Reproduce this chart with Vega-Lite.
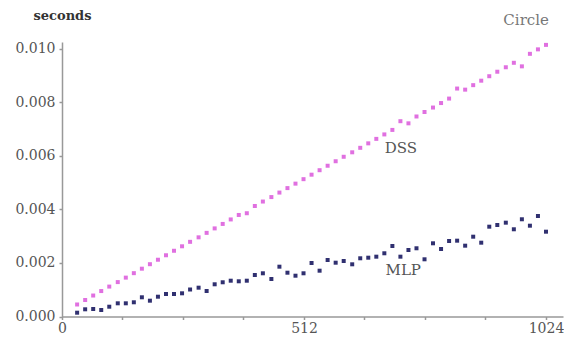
{
  "$schema": "https://vega.github.io/schema/vega-lite/v6.json",
  "autosize": {"type": "none"},
  "width": 501,
  "height": 274.5,
  "padding": {"left": 62, "top": 42, "right": 1, "bottom": 23.5},
  "background": "white",
  "config": {"view": {"stroke": null}, "font": "DejaVu Serif"},
  "datasets": {
    "pts": [
      {"n":32,"t":0.000449,"s":"DSS"},{"n":49,"t":0.000616,"s":"DSS"},{"n":66,"t":0.000784,"s":"DSS"},{"n":83,"t":0.000951,"s":"DSS"},{"n":100,"t":0.001118,"s":"DSS"},{"n":118,"t":0.001286,"s":"DSS"},{"n":135,"t":0.001453,"s":"DSS"},{"n":152,"t":0.00162,"s":"DSS"},{"n":169,"t":0.001787,"s":"DSS"},{"n":186,"t":0.001955,"s":"DSS"},{"n":203,"t":0.002122,"s":"DSS"},{"n":220,"t":0.002289,"s":"DSS"},{"n":237,"t":0.002457,"s":"DSS"},{"n":254,"t":0.002624,"s":"DSS"},{"n":271,"t":0.002791,"s":"DSS"},{"n":289,"t":0.002959,"s":"DSS"},{"n":306,"t":0.003126,"s":"DSS"},{"n":323,"t":0.003293,"s":"DSS"},{"n":340,"t":0.00346,"s":"DSS"},{"n":357,"t":0.003628,"s":"DSS"},{"n":374,"t":0.003795,"s":"DSS"},{"n":391,"t":0.00386,"s":"DSS"},{"n":408,"t":0.00413,"s":"DSS"},{"n":425,"t":0.004297,"s":"DSS"},{"n":443,"t":0.004464,"s":"DSS"},{"n":460,"t":0.004632,"s":"DSS"},{"n":477,"t":0.004799,"s":"DSS"},{"n":494,"t":0.004966,"s":"DSS"},{"n":511,"t":0.005133,"s":"DSS"},{"n":528,"t":0.005301,"s":"DSS"},{"n":545,"t":0.005468,"s":"DSS"},{"n":562,"t":0.005635,"s":"DSS"},{"n":579,"t":0.005803,"s":"DSS"},{"n":596,"t":0.00597,"s":"DSS"},{"n":614,"t":0.006137,"s":"DSS"},{"n":631,"t":0.006305,"s":"DSS"},{"n":648,"t":0.006472,"s":"DSS"},{"n":665,"t":0.006639,"s":"DSS"},{"n":682,"t":0.006806,"s":"DSS"},{"n":699,"t":0.006974,"s":"DSS"},{"n":716,"t":0.0073,"s":"DSS"},{"n":733,"t":0.00722,"s":"DSS"},{"n":750,"t":0.007476,"s":"DSS"},{"n":767,"t":0.007643,"s":"DSS"},{"n":785,"t":0.00781,"s":"DSS"},{"n":802,"t":0.007978,"s":"DSS"},{"n":819,"t":0.008145,"s":"DSS"},{"n":836,"t":0.00852,"s":"DSS"},{"n":853,"t":0.008479,"s":"DSS"},{"n":870,"t":0.008647,"s":"DSS"},{"n":887,"t":0.008814,"s":"DSS"},{"n":904,"t":0.008981,"s":"DSS"},{"n":921,"t":0.009149,"s":"DSS"},{"n":939,"t":0.009316,"s":"DSS"},{"n":956,"t":0.009483,"s":"DSS"},{"n":973,"t":0.00935,"s":"DSS"},{"n":990,"t":0.009818,"s":"DSS"},{"n":1007,"t":0.009985,"s":"DSS"},{"n":1024,"t":0.010152,"s":"DSS"},
      {"n":32,"t":0.000142,"s":"MLP"},{"n":49,"t":0.000269,"s":"MLP"},{"n":66,"t":0.00028,"s":"MLP"},{"n":83,"t":0.000243,"s":"MLP"},{"n":100,"t":0.000366,"s":"MLP"},{"n":118,"t":0.000493,"s":"MLP"},{"n":135,"t":0.000493,"s":"MLP"},{"n":152,"t":0.000531,"s":"MLP"},{"n":169,"t":0.000718,"s":"MLP"},{"n":186,"t":0.000591,"s":"MLP"},{"n":203,"t":0.00074,"s":"MLP"},{"n":220,"t":0.000841,"s":"MLP"},{"n":237,"t":0.000841,"s":"MLP"},{"n":254,"t":0.000867,"s":"MLP"},{"n":271,"t":0.001009,"s":"MLP"},{"n":289,"t":0.001077,"s":"MLP"},{"n":306,"t":0.000953,"s":"MLP"},{"n":323,"t":0.001204,"s":"MLP"},{"n":340,"t":0.001279,"s":"MLP"},{"n":357,"t":0.001338,"s":"MLP"},{"n":374,"t":0.001316,"s":"MLP"},{"n":391,"t":0.001338,"s":"MLP"},{"n":408,"t":0.001551,"s":"MLP"},{"n":425,"t":0.001615,"s":"MLP"},{"n":443,"t":0.001402,"s":"MLP"},{"n":460,"t":0.001862,"s":"MLP"},{"n":477,"t":0.001637,"s":"MLP"},{"n":494,"t":0.001525,"s":"MLP"},{"n":511,"t":0.001615,"s":"MLP"},{"n":528,"t":0.002,"s":"MLP"},{"n":545,"t":0.001712,"s":"MLP"},{"n":562,"t":0.002112,"s":"MLP"},{"n":579,"t":0.002011,"s":"MLP"},{"n":596,"t":0.002075,"s":"MLP"},{"n":614,"t":0.001951,"s":"MLP"},{"n":631,"t":0.002176,"s":"MLP"},{"n":648,"t":0.002198,"s":"MLP"},{"n":665,"t":0.002236,"s":"MLP"},{"n":682,"t":0.002363,"s":"MLP"},{"n":699,"t":0.002636,"s":"MLP"},{"n":716,"t":0.002236,"s":"MLP"},{"n":733,"t":0.002486,"s":"MLP"},{"n":750,"t":0.00255,"s":"MLP"},{"n":767,"t":0.002138,"s":"MLP"},{"n":785,"t":0.002736,"s":"MLP"},{"n":802,"t":0.002523,"s":"MLP"},{"n":819,"t":0.002822,"s":"MLP"},{"n":836,"t":0.002834,"s":"MLP"},{"n":853,"t":0.002647,"s":"MLP"},{"n":870,"t":0.002983,"s":"MLP"},{"n":887,"t":0.002759,"s":"MLP"},{"n":904,"t":0.003357,"s":"MLP"},{"n":921,"t":0.003421,"s":"MLP"},{"n":939,"t":0.003507,"s":"MLP"},{"n":956,"t":0.00326,"s":"MLP"},{"n":973,"t":0.003634,"s":"MLP"},{"n":990,"t":0.003394,"s":"MLP"},{"n":1007,"t":0.003757,"s":"MLP"},{"n":1024,"t":0.00317,"s":"MLP"}
    ],
    "labels": [
      {"n":717,"t":0.0063,"label":"DSS","c":"#555555"},
      {"n":722,"t":0.00174,"label":"MLP","c":"#555555"},
      {"n":982,"t":0.01108,"label":"Circle","c":"#777777"}
    ]
  },
  "layer": [
    {
      "data": {"name": "pts"},
      "mark": {"type": "point", "shape": "square", "filled": true, "size": 16, "opacity": 1},
      "encoding": {
        "x": {
          "field": "n", "type": "quantitative",
          "scale": {"domain": [0, 1060], "nice": false, "zero": false},
          "axis": {
            "title": null, "grid": false,
            "values": [0, 128, 256, 384, 512, 640, 768, 896, 1024],
            "labelExpr": "datum.value == 0 || datum.value == 512 || datum.value == 1024 ? datum.value : ''",
            "domainColor": "#999999", "domainWidth": 1.5,
            "tickColor": "#999999", "tickSize": 3, "tickWidth": 1.5,
            "labelFont": "DejaVu Serif", "labelFontSize": 14, "labelColor": "#555555",
            "labelPadding": 2, "labelFlush": false
          }
        },
        "y": {
          "field": "t", "type": "quantitative",
          "scale": {"domain": [0, 0.01026], "nice": false, "zero": false},
          "axis": {
            "title": "seconds", "titleAngle": 0, "titleX": 0, "titleY": -27,
            "titleAlign": "center", "titleBaseline": "middle",
            "titleFont": "DejaVu Serif", "titleFontSize": 13, "titleFontWeight": "bold", "titleColor": "#333333",
            "grid": false,
            "values": [0, 0.002, 0.004, 0.006, 0.008, 0.01],
            "format": ".3f",
            "domainColor": "#999999", "domainWidth": 1.5,
            "tickColor": "#999999", "tickSize": 3, "tickWidth": 1.5,
            "labelFont": "DejaVu Serif", "labelFontSize": 14, "labelColor": "#555555",
            "labelPadding": 4, "labelFlush": false
          }
        },
        "color": {
          "field": "s", "type": "nominal",
          "scale": {"domain": ["DSS", "MLP"], "range": ["#e070e0", "#303070"]},
          "legend": null
        }
      }
    },
    {
      "data": {"name": "labels"},
      "mark": {"type": "text", "font": "DejaVu Serif", "fontSize": 15, "align": "center", "baseline": "middle"},
      "encoding": {
        "x": {"field": "n", "type": "quantitative"},
        "y": {"field": "t", "type": "quantitative"},
        "text": {"field": "label"},
        "color": {"field": "c", "type": "nominal", "scale": null}
      }
    }
  ]
}
